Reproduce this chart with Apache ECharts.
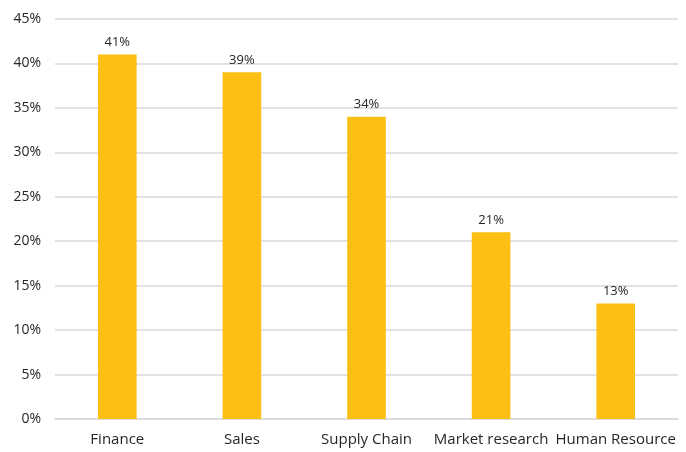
<!DOCTYPE html>
<html>
<head>
<meta charset="utf-8">
<script src="https://cdn.jsdelivr.net/npm/echarts@6/dist/echarts.min.js"></script>
<style>
  html, body { margin: 0; padding: 0; background: #fff; }
  #chart { width: 686px; height: 452px; }
</style>
</head>
<body>
<div id="chart"></div>
<script>
// Share of respondents by business function
const categories = ['Finance', 'Sales', 'Supply Chain', 'Market research', 'Human Resource'];
const shares = [41, 39, 34, 21, 13];
const yTicks = { min: 0, max: 45, interval: 5 };

const chart = echarts.init(document.getElementById('chart'), null, { renderer: 'canvas' });
const textFont = "'Open Sans', 'Noto Sans', sans-serif";

chart.setOption({
  animation: false,
  grid: { left: 55, right: 8, top: 19, bottom: 33, containLabel: false },
  xAxis: {
    type: 'category',
    data: categories,
    axisLine: { show: true, lineStyle: { color: '#d9d9d9', width: 1.5 } },
    axisTick: { show: false },
    axisLabel: { color: '#262626', fontSize: 15, fontFamily: textFont, margin: 13, interval: 0 }
  },
  yAxis: {
    type: 'value',
    min: yTicks.min,
    max: yTicks.max,
    interval: yTicks.interval,
    axisLine: { show: false },
    axisTick: { show: false },
    splitLine: { lineStyle: { color: '#d9d9d9', width: 1.5 } },
    axisLabel: { color: '#262626', fontSize: 14, fontFamily: textFont, margin: 14, formatter: v => v + '%' }
  },
  series: [{
    type: 'bar',
    data: shares,
    barWidth: '31%',
    itemStyle: { color: '#FCBF14' },
    label: {
      show: true,
      position: 'top',
      distance: 6,
      color: '#262626',
      fontSize: 13,
      fontFamily: textFont,
      formatter: p => p.value + '%'
    }
  }]
});
</script>
</body>
</html>
